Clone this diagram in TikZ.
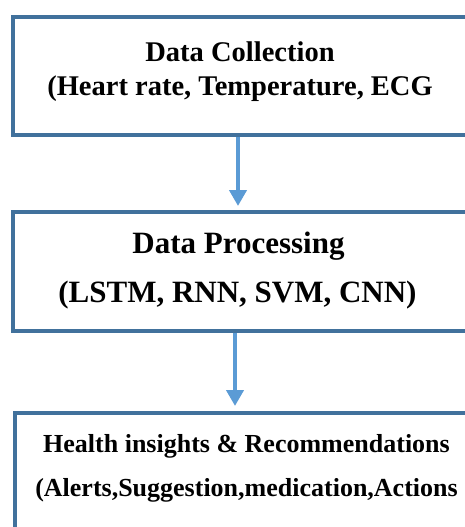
\documentclass[tikz,border=0pt]{standalone}
\usepackage{fontspec}
\setmainfont{Liberation Serif}
\usetikzlibrary{arrows.meta}

\definecolor{frameblue}{HTML}{41719C}
\definecolor{flowblue}{HTML}{5B9BD5}

\tikzset{
  stage/.style={draw=frameblue, line width=4pt, rectangle, inner sep=0pt},
  flow/.style={draw=flowblue, line width=4.4pt,
    -{Triangle[length=16pt, width=17pt]}, shorten >=4pt},
  caption/.style={anchor=base, inner sep=0pt, font=\bfseries},
}

\begin{document}
\begin{tikzpicture}[x=1pt, y=-1pt]
  \useasboundingbox (0,0) rectangle (465,527);
  \clip (0,0) rectangle (465,527);

  % three stages of the pipeline
  \node[stage, minimum width=455pt, minimum height=118pt] (collect) at (240,76) {};
  \node[stage, minimum width=455pt, minimum height=119pt] (process) at (240,271.5) {};
  \node[stage, minimum width=463pt, minimum height=135pt] (insight) at (246.5,480) {};

  % stage captions
  \node[caption, font=\bfseries\fontsize{28.5}{34}\selectfont] (collectA) at (240,62) {Data Collection};
  \node[caption, font=\bfseries\fontsize{28.5}{34}\selectfont] (collectB) at (240,95) {(Heart rate, Temperature, ECG};

  \node[caption, font=\bfseries\fontsize{31}{37}\selectfont] (processA) at (238.5,253) {Data Processing};
  \node[caption, font=\bfseries\fontsize{31}{37}\selectfont] (processB) at (237.5,302) {(LSTM, RNN, SVM, CNN)};

  \node[caption, font=\bfseries\fontsize{26}{31}\selectfont] (insightA) at (246.5,452) {Health insights \& Recommendations};
  \node[caption, font=\bfseries\fontsize{26}{31}\selectfont] (insightB) at (246.5,496) {(Alerts,Suggestion,medication,Actions};

  % connectors
  \draw[flow] ([xshift=-2pt]collect.south) -- ([xshift=-2pt]process.north);
  \draw[flow, shorten >=4.5pt] ([xshift=-5pt]process.south) -- ([xshift=-11.5pt]insight.north);
\end{tikzpicture}
\end{document}
